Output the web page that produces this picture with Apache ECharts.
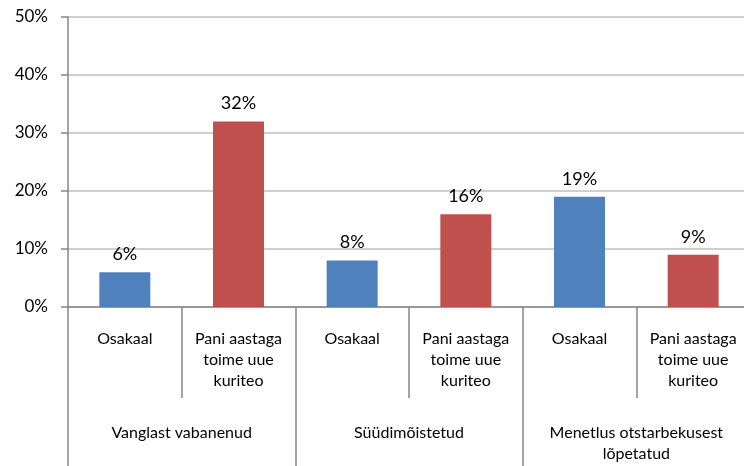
<!DOCTYPE html>
<html>
<head>
<meta charset="utf-8">
<script src="https://cdn.jsdelivr.net/npm/echarts@6/dist/echarts.min.js"></script>
<style>
  html, body { margin: 0; padding: 0; background: #fff; overflow: hidden; }
  #chart { width: 750px; height: 466px; }
</style>
</head>
<body>
<div id="chart"></div>
<script>
// kategooriad
const subCategories = ['Osakaal', 'Pani aastaga\ntoime uue\nkuriteo', 'Osakaal', 'Pani aastaga\ntoime uue\nkuriteo', 'Osakaal', 'Pani aastaga\ntoime uue\nkuriteo']
const groupCategories = ['Vanglast vabanenud', 'Süüdimõistetud', 'Menetlus otstarbekusest\nlõpetatud']
// väärtused (%)
const blueValues = [6, null, 8, null, 19, null]
const redValues = [null, 32, null, 16, null, 9]
const yTicks = [0, 10, 20, 30, 40, 50]

const font = 'Lato, "Open Sans", sans-serif'
const chart = echarts.init(document.getElementById('chart'))

const labelStyle = {
  show: true,
  position: 'top',
  distance: 9,
  formatter: (p) => p.value + '%',
  fontFamily: font,
  fontSize: 18,
  color: '#000',
}

chart.setOption({
  animation: false,
  grid: {
    left: 68,
    top: 17,
    bottom: 159,
    right: 0,
    containLabel: false,
  },
  xAxis: [
    {
      type: 'category',
      data: subCategories,
      position: 'bottom',
      axisLine: { lineStyle: { color: '#868686', width: 1.5 } },
      axisTick: { show: true, interval: 0, length: 91, lineStyle: { color: '#868686', width: 1.5 } },
      axisLabel: {
        interval: 0,
        margin: 21,
        fontFamily: font,
        fontSize: 16,
        lineHeight: 21,
        color: '#000',
      },
    },
    {
      type: 'category',
      data: groupCategories,
      position: 'bottom',
      axisLine: { show: false },
      axisTick: { show: true, interval: 0, length: 170, lineStyle: { color: '#868686', width: 1.5 } },
      axisLabel: {
        interval: 0,
        margin: 115,
        fontFamily: font,
        fontSize: 16,
        lineHeight: 21,
        color: '#000',
      },
    },
  ],
  yAxis: {
    type: 'value',
    min: yTicks[0],
    max: yTicks[yTicks.length - 1],
    interval: 10,
    axisLine: { show: true, lineStyle: { color: '#868686', width: 1.5 } },
    axisTick: { show: true, length: 7, lineStyle: { color: '#868686', width: 1.5 } },
    axisLabel: {
      formatter: '{value}%',
      margin: 20,
      fontFamily: font,
      fontSize: 17,
      color: '#000',
    },
    splitLine: { show: true, lineStyle: { color: '#bfbfbf', width: 1.5 } },
  },
  series: [
    {
      name: 'sinine',
      type: 'bar',
      data: blueValues,
      barWidth: 51,
      barGap: '-100%',
      itemStyle: { color: '#4f81bd' },
      label: labelStyle,
    },
    {
      name: 'punane',
      type: 'bar',
      data: redValues,
      barWidth: 51,
      barGap: '-100%',
      itemStyle: { color: '#c0504d' },
      label: labelStyle,
    },
  ],
})
</script>
</body>
</html>
